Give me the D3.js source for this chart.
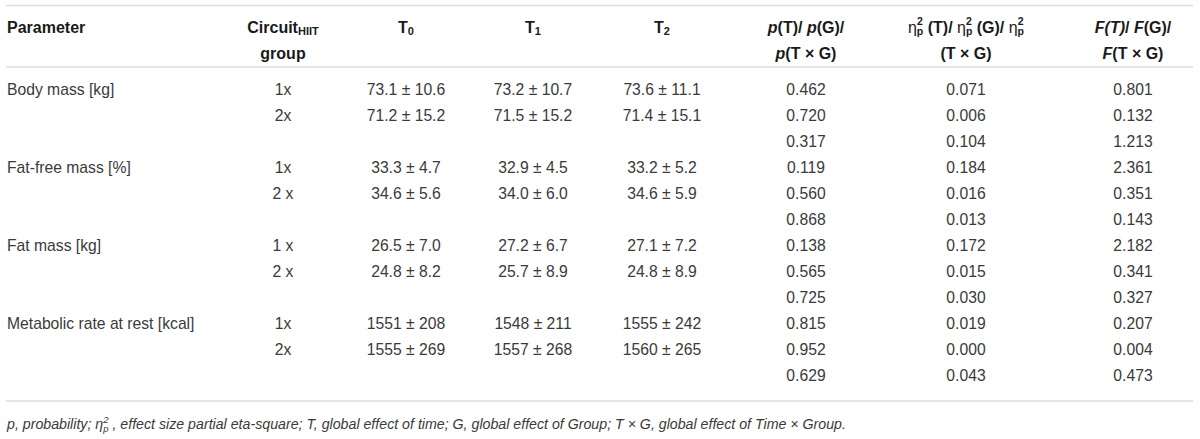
<!DOCTYPE html>
<html>
<head>
<meta charset="utf-8">
<title>Circuit HIIT table</title>
<script src="https://d3js.org/d3.v7.min.js"></script>
<style>
  body { margin: 0; background: #fff; }
  text { font-family: "Liberation Sans", Arial, Helvetica, sans-serif; }
</style>
</head>
<body>
<div id="chart"></div>
<script>
// table content
const params = ["Body mass [kg]", "Fat-free mass [%]", "Fat mass [kg]", "Metabolic rate at rest [kcal]"]
const groups = [["1x", "2x"], ["1x", "2 x"], ["1 x", "2 x"], ["1x", "2x"]]
const decimals = [1, 1, 1, 0]

// mean, sd per group row (8 rows)
const t0 = [[73.1, 10.6], [71.2, 15.2], [33.3, 4.7], [34.6, 5.6], [26.5, 7.0], [24.8, 8.2], [1551, 208], [1555, 269]]
const t1 = [[73.2, 10.7], [71.5, 15.2], [32.9, 4.5], [34.0, 6.0], [27.2, 6.7], [25.7, 8.9], [1548, 211], [1557, 268]]
const t2 = [[73.6, 11.1], [71.4, 15.1], [33.2, 5.2], [34.6, 5.9], [27.1, 7.2], [24.8, 8.9], [1555, 242], [1560, 265]]

// p(T), p(G), p(TxG) per parameter (12 rows)
const pVals   = [0.462, 0.720, 0.317, 0.119, 0.560, 0.868, 0.138, 0.565, 0.725, 0.815, 0.952, 0.629]
const etaVals = [0.071, 0.006, 0.104, 0.184, 0.016, 0.013, 0.172, 0.015, 0.030, 0.019, 0.000, 0.043]
const fVals   = [0.801, 0.132, 1.213, 2.361, 0.351, 0.143, 2.182, 0.341, 0.327, 0.207, 0.004, 0.473]

const W = 1200, H = 439
const svg = d3.select("#chart").append("svg")
    .attr("width", W).attr("height", H)

const cols = ["param", "group", "t0", "t1", "t2", "p", "eta", "f"]
const xCol = d3.scaleOrdinal()
    .domain(cols)
    .range([7, 283, 406, 533, 662, 806, 966, 1133])

const nRows = pVals.length
const y = d3.scaleLinear().domain([0, nRows - 1]).range([89, 375])

const bodyColor = "#3a3a3a"
const headColor = "#1a1a1a"
const fs = 15.7
const hfs = 16

// rules
const rules = [5.5, 67, 401]
svg.selectAll("line.rule")
    .data(rules)
    .enter().append("line")
    .attr("class", "rule")
    .attr("x1", 6).attr("x2", 1193)
    .attr("y1", d => d).attr("y2", d => d)
    .attr("stroke", "#dcdcdc")
    .attr("stroke-width", 1.5)

// ---------- header ----------
const head = svg.append("g")
    .attr("font-weight", "bold")
    .attr("font-size", hfs)
    .attr("fill", headColor)

const hy1 = 27, hy2 = 53

head.append("text").attr("x", xCol("param")).attr("y", hy1)
    .attr("dominant-baseline", "central").text("Parameter")

let c = head.append("text").attr("x", xCol("group")).attr("y", hy1)
    .attr("text-anchor", "middle").attr("dominant-baseline", "central")
c.append("tspan").text("Circuit")
c.append("tspan").attr("font-size", 11).attr("dy", 4).text("HIIT")
head.append("text").attr("x", xCol("group")).attr("y", hy2)
    .attr("text-anchor", "middle").attr("dominant-baseline", "central").text("group")

;["t0", "t1", "t2"].forEach(function(k, i) {
    let t = head.append("text").attr("x", xCol(k)).attr("y", hy1)
        .attr("text-anchor", "middle").attr("dominant-baseline", "central")
    t.append("tspan").text("T")
    t.append("tspan").attr("font-size", 11).attr("dy", 4).text(i)
})

// p column
let p1 = head.append("text").attr("x", xCol("p")).attr("y", hy1)
    .attr("text-anchor", "middle").attr("dominant-baseline", "central")
p1.append("tspan").attr("font-style", "italic").text("p")
p1.append("tspan").text("(T)/ ")
p1.append("tspan").attr("font-style", "italic").text("p")
p1.append("tspan").text("(G)/")
let p2 = head.append("text").attr("x", xCol("p")).attr("y", hy2)
    .attr("text-anchor", "middle").attr("dominant-baseline", "central")
p2.append("tspan").attr("font-style", "italic").text("p")
p2.append("tspan").text("(T \u00d7 G)")

// eta column
function eta(t, after, last) {
    t.append("tspan").attr("font-weight", "normal").text("\u03b7")
    t.append("tspan").attr("font-size", 10.5).attr("dy", -6).text("2")
    t.append("tspan").attr("font-size", 10.5).attr("dx", -5.9).attr("dy", 10).text("p")
    if (!last) t.append("tspan").attr("dy", -4).text(after)
}
let e1 = head.append("text").attr("x", xCol("eta")).attr("y", hy1)
    .attr("text-anchor", "middle").attr("dominant-baseline", "central")
eta(e1, " (T)/ ")
eta(e1, " (G)/ ")
eta(e1, "", true)
head.append("text").attr("x", xCol("eta")).attr("y", hy2)
    .attr("text-anchor", "middle").attr("dominant-baseline", "central").text("(T \u00d7 G)")

// F column
let f1 = head.append("text").attr("x", xCol("f")).attr("y", hy1)
    .attr("text-anchor", "middle").attr("dominant-baseline", "central")
f1.append("tspan").attr("font-style", "italic").text("F(T)")
f1.append("tspan").text("/ ")
f1.append("tspan").attr("font-style", "italic").text("F")
f1.append("tspan").text("(G)/")
let f2 = head.append("text").attr("x", xCol("f")).attr("y", hy2)
    .attr("text-anchor", "middle").attr("dominant-baseline", "central")
f2.append("tspan").attr("font-style", "italic").text("F")
f2.append("tspan").text("(T \u00d7 G)")

// ---------- body ----------
const body = svg.append("g")
    .attr("font-size", fs)
    .attr("fill", bodyColor)
    .attr("dominant-baseline", "central")

body.selectAll("text.param")
    .data(params)
    .enter().append("text")
    .attr("class", "param")
    .attr("x", xCol("param"))
    .attr("y", (d, i) => y(i * 3))
    .text(d => d)

// group rows: two per parameter
const groupRows = []
params.forEach(function(p, i) {
    groups[i].forEach(function(g, j) {
        groupRows.push({ row: i * 3 + j, param: i, g: g, k: i * 2 + j })
    })
})

body.selectAll("text.grp")
    .data(groupRows)
    .enter().append("text")
    .attr("class", "grp")
    .attr("x", xCol("group"))
    .attr("y", d => y(d.row))
    .attr("text-anchor", "middle")
    .text(d => d.g)

const timeCols = [["t0", t0], ["t1", t1], ["t2", t2]]
timeCols.forEach(function(tc) {
    body.selectAll("text." + tc[0])
        .data(groupRows)
        .enter().append("text")
        .attr("class", tc[0])
        .attr("x", xCol(tc[0]))
        .attr("y", d => y(d.row))
        .attr("text-anchor", "middle")
        .text(function(d) {
            let v = tc[1][d.k], fmt = d3.format("." + decimals[d.param] + "f")
            return fmt(v[0]) + " \u00b1 " + fmt(v[1])
        })
})

const statCols = [["p", pVals], ["eta", etaVals], ["f", fVals]]
statCols.forEach(function(sc) {
    body.selectAll("text.s" + sc[0])
        .data(sc[1])
        .enter().append("text")
        .attr("class", "s" + sc[0])
        .attr("x", xCol(sc[0]))
        .attr("y", (d, i) => y(i))
        .attr("text-anchor", "middle")
        .text(d => d3.format(".3f")(d))
})

// ---------- footnote ----------
let fn = svg.append("text")
    .attr("x", 7).attr("y", 424)
    .attr("dominant-baseline", "central")
    .attr("font-size", 14.2)
    .attr("font-style", "italic")
    .attr("fill", bodyColor)
fn.append("tspan").text("p, probability; \u03b7")
fn.append("tspan").attr("font-size", 9.5).attr("dy", -5).text("2")
fn.append("tspan").attr("font-size", 9.5).attr("dx", -5.3).attr("dy", 9).text("p")
fn.append("tspan").attr("dy", -4).text(" , effect size partial eta-square; T, global effect of time; G, global effect of Group; T \u00d7 G, global effect of Time \u00d7 Group.")
</script>
</body>
</html>
